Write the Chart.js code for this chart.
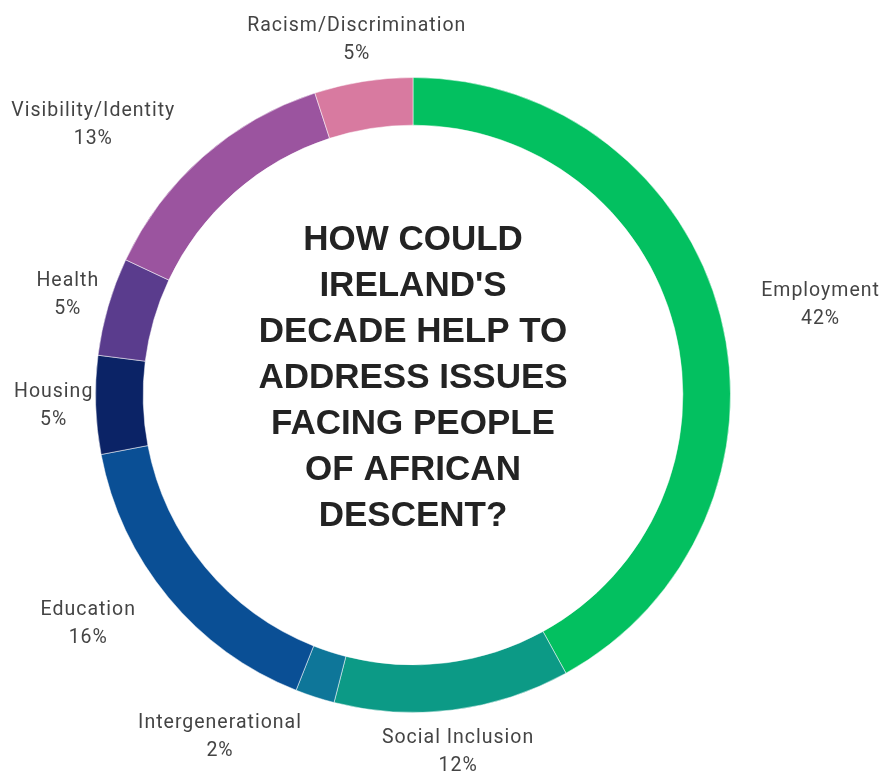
<!DOCTYPE html>
<html lang="en">
<head>
<meta charset="UTF-8">
<title>Ireland's Decade - issues facing people of African descent</title>
<script src="https://cdn.jsdelivr.net/npm/chart.js"></script>
<style>
    body { margin: 0; background: #fff; }
    #wrap { width: 887px; height: 772px; }
</style>
</head>
<body>
<div id="wrap"><canvas id="issuesChart" width="887" height="772"></canvas></div>
<script>
var categories = ["Employment", "Social Inclusion", "Intergenerational", "Education",
                  "Housing", "Health", "Visibility/Identity", "Racism/Discrimination"];
var shares = [42, 12, 2, 16, 5, 5, 13, 5];
var sliceColors = ["#03c060", "#0c9a86", "#0e7699", "#0a4f95", "#0b2366", "#5a3c8d", "#9b549f", "#d87aa0"];
var titleLines = ["HOW COULD", "IRELAND'S", "DECADE HELP TO", "ADDRESS ISSUES",
                  "FACING PEOPLE", "OF AFRICAN", "DESCENT?"];

// labels outside the ring: centred on the mid-angle, pushed to one side if they hit the ring
var outLabels = {
    id: 'outLabels',
    afterDatasetsDraw: function(chart) {
        var ctx = chart.ctx;
        var arcs = chart.getDatasetMeta(0).data;
        ctx.save();
        ctx.font = '19.5px Roboto';
        ctx.letterSpacing = '1px';
        ctx.fillStyle = '#444';
        ctx.textBaseline = 'middle';
        ctx.textAlign = 'center';
        arcs.forEach(function(arc, i) {
            var mid = (arc.startAngle + arc.endAngle) / 2;
            var r = arc.outerRadius + 42;
            var ax = arc.x + Math.cos(mid) * r;
            var ay = arc.y + Math.sin(mid) * r;
            var lines = [categories[i], shares[i] + '%'];
            var w = Math.max(ctx.measureText(lines[0]).width, ctx.measureText(lines[1]).width);
            var half = 28;
            var nx = Math.max(ax - w / 2, Math.min(arc.x, ax + w / 2));
            var ny = Math.max(ay - half, Math.min(arc.y, ay + half));
            var clear = Math.hypot(nx - arc.x, ny - arc.y);
            var cx = ax;
            if (clear < arc.outerRadius) cx = ax + Math.sign(Math.cos(mid)) * w / 2;
            ctx.fillText(lines[0], cx, ay - 14);
            ctx.fillText(lines[1], cx, ay + 14);
        });
        ctx.restore();
    }
};

var centerTitle = {
    id: 'centerTitle',
    afterDraw: function(chart) {
        var ctx = chart.ctx;
        var arc = chart.getDatasetMeta(0).data[0];
        ctx.save();
        ctx.font = 'bold 35px "Liberation Sans", Arial, sans-serif';
        ctx.fillStyle = '#232323';
        ctx.textAlign = 'center';
        ctx.textBaseline = 'middle';
        var gap = 46;
        var top = arc.y - 17 - (titleLines.length - 1) / 2 * gap;
        titleLines.forEach(function(t, i) {
            ctx.fillText(t, arc.x, top + i * gap);
        });
        ctx.restore();
    }
};

new Chart(document.getElementById('issuesChart'), {
    type: 'doughnut',
    data: {
        labels: categories,
        datasets: [{
            data: shares,
            backgroundColor: sliceColors,
            borderColor: 'rgba(255,255,255,0.5)',
            borderWidth: 1
        }]
    },
    options: {
        responsive: false,
        animation: false,
        cutout: '85%',
        layout: { padding: { left: 95, right: 156, top: 77, bottom: 59 } },
        plugins: {
            legend: { display: false },
            tooltip: { enabled: false }
        }
    },
    plugins: [outLabels, centerTitle]
});
</script>
</body>
</html>
